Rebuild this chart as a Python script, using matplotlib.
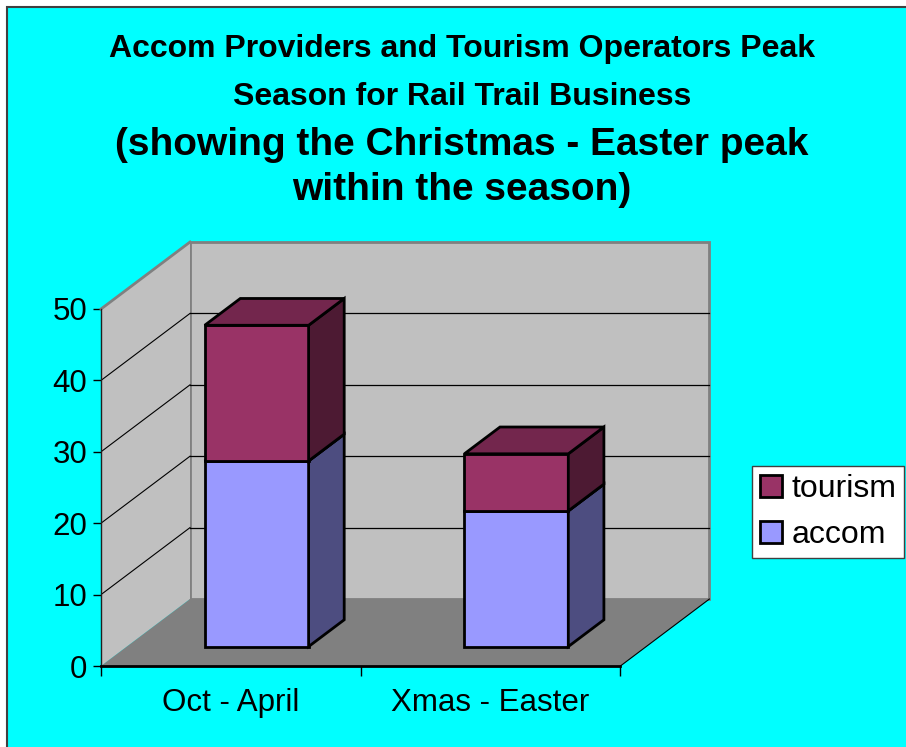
import numpy as np
import matplotlib.pyplot as plt
from matplotlib.patches import Polygon, Rectangle, Patch

plt.rcParams['font.family'] = ['Liberation Sans', 'DejaVu Sans']

periods = ['Oct - April', 'Xmas - Easter']
accom = [26, 19]
tourism = [19, 8]
yticks = [0, 10, 20, 30, 40, 50]

# (label, values, front, side, top)
series = [('accom', accom, '#9999FF', '#4D4D80', '#7373BF'),
          ('tourism', tourism, '#993366', '#4D1A33', '#73264D')]

# oblique depth of the floor in data units, bar depth range and half width
DX, DY = 0.3427, 9.38
D0, D1 = 0.29, 0.69
HALF = 0.2
YMAX = 50
n = len(periods)

fig = plt.figure(figsize=(9.06, 7.47), dpi=100)
fig.patch.set_facecolor('white')
fig.add_artist(Rectangle((7 / 906, -0.05), 1.1, 1.05 - 7 / 747,
                         transform=fig.transFigure, facecolor='#00FFFF',
                         edgecolor='#404040', linewidth=1.5, zorder=0))

ax = fig.add_axes([101 / 906, 81 / 747, 2.4 * 259.7 / 906, 60 * 7.14 / 747])
ax.set_xlim(0, 2.4)
ax.set_ylim(0, 60)
ax.patch.set_visible(False)

# walls and floor
back = Rectangle((DX, DY), n, YMAX, facecolor='#C0C0C0', edgecolor='#808080',
                 linewidth=2, zorder=1, clip_on=False)
side = Polygon([(0, 0), (DX, DY), (DX, DY + YMAX), (0, YMAX)], closed=True,
               facecolor='#C0C0C0', edgecolor='none', zorder=1, clip_on=False)
floor = Polygon([(0, 0), (n, 0), (n + DX, DY), (DX, DY)], closed=True,
                facecolor='#808080', edgecolor='none', zorder=1, clip_on=False)
ax.add_patch(back)
ax.add_patch(side)
ax.add_patch(floor)
ax.plot([0, DX], [YMAX, DY + YMAX], color='#808080', lw=2, zorder=2, clip_on=False)
ax.plot([n, n + DX], [0, DY], color='black', lw=0.8, zorder=2, clip_on=False)

for v in yticks[1:-1]:
    ax.plot([DX, n + DX], [DY + v, DY + v], color='black', lw=0.9, zorder=2)
    ax.plot([0, DX], [v, DY + v], color='black', lw=0.8, zorder=2)

# stacked 3d bars
x = np.arange(n) + 0.5
bottom = np.zeros(n)
for k, (name, vals, front, sidec, topc) in enumerate(series):
    vals = np.array(vals, dtype=float)
    ox0, oy0 = D0 * DX, D0 * DY
    ox1, oy1 = D1 * DX, D1 * DY
    ax.bar(x + ox0, vals, bottom=bottom + oy0, width=2 * HALF, color=front,
           edgecolor='black', linewidth=2, zorder=4 + k)
    for i in range(n):
        b, t = bottom[i], bottom[i] + vals[i]
        r = x[i] + HALF
        l = x[i] - HALF
        ax.add_patch(Polygon([(r + ox0, b + oy0), (r + ox0, t + oy0),
                              (r + ox1, t + oy1), (r + ox1, b + oy1)],
                             closed=True, facecolor=sidec, edgecolor='black',
                             linewidth=2, joinstyle='miter', zorder=4 + k))
        ax.add_patch(Polygon([(l + ox0, t + oy0), (r + ox0, t + oy0),
                              (r + ox1, t + oy1), (l + ox1, t + oy1)],
                             closed=True, facecolor=topc, edgecolor='black',
                             linewidth=2, joinstyle='miter', zorder=4 + k))
    bottom = bottom + vals

# axes
for s in ['top', 'right']:
    ax.spines[s].set_visible(False)
ax.spines['left'].set_bounds(0, YMAX)
ax.spines['left'].set_color('#202020')
ax.spines['left'].set_linewidth(1)
ax.spines['bottom'].set_bounds(0, n)
ax.spines['bottom'].set_linewidth(2)
ax.spines['bottom'].set_zorder(3)
ax.spines['left'].set_zorder(3)

ax.set_yticks(yticks)
ax.set_yticklabels([str(v) for v in yticks], fontsize=22.5)
ax.tick_params(axis='y', direction='out', length=6, width=1, pad=4)
ax.set_xticks(np.arange(n + 1))
ax.set_xticklabels([])
ax.set_xticks(x, minor=True)
ax.set_xticklabels(periods, minor=True, fontsize=22.5)
ax.tick_params(axis='x', which='major', direction='out', length=7, width=1)
ax.tick_params(axis='x', which='minor', length=0, pad=16)

# titles
cx = 462 / 906
fig.text(cx, 1 - 57 / 747, 'Accom Providers and Tourism Operators Peak',
         ha='center', va='baseline', fontsize=23, fontweight='bold')
fig.text(cx, 1 - 105 / 747, 'Season for Rail Trail Business',
         ha='center', va='baseline', fontsize=23, fontweight='bold')
fig.text(cx, 1 - 155 / 747, '(showing the Christmas - Easter peak',
         ha='center', va='baseline', fontsize=28, fontweight='bold')
fig.text(cx, 1 - 200 / 747, 'within the season)',
         ha='center', va='baseline', fontsize=28, fontweight='bold')

handles = [Patch(facecolor=s[2], edgecolor='black', linewidth=2, label=s[0])
           for s in reversed(series)]
leg = fig.legend(handles=handles, loc='upper left',
                 bbox_to_anchor=(752 / 906, 1 - 466 / 747), fontsize=23,
                 frameon=True, fancybox=False, shadow=False,
                 handlelength=0.68, handleheight=0.68, handletextpad=0.3,
                 labelspacing=0.5, borderpad=0.25, borderaxespad=0)
leg.get_frame().set_edgecolor('#404040')
leg.get_frame().set_linewidth(1)
leg.get_frame().set_facecolor('white')
leg.get_frame().set_alpha(1)

fig.savefig('out.png', dpi=100)
